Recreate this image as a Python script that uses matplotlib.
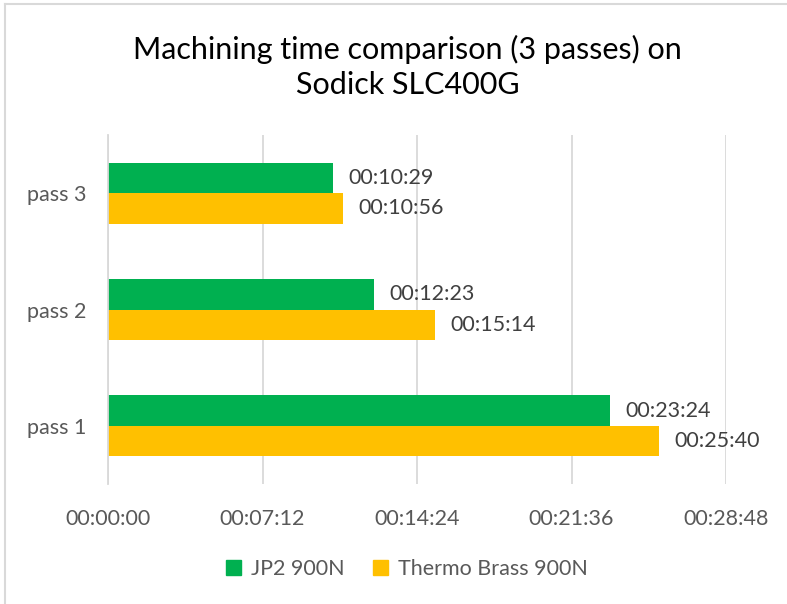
import numpy as np
import matplotlib
matplotlib.use("Agg")
import matplotlib.pyplot as plt
from matplotlib.lines import Line2D
from matplotlib.patches import Patch

plt.rcParams['font.family'] = ['Lato', 'DejaVu Sans']

# data (times in seconds)
passes = ['pass 1', 'pass 2', 'pass 3']
jp2 = [23*60 + 24, 12*60 + 23, 10*60 + 29]
thermo = [25*60 + 40, 15*60 + 14, 10*60 + 56]
series_names = ['JP2 900N', 'Thermo Brass 900N']
xticks = [0, 432, 864, 1296, 1728]

green = '#00B050'
yellow = '#FFC000'
grid_c = '#D9D9D9'
txt_c = '#595959'


def hms(s):
    s = int(round(s))
    return '%02d:%02d:%02d' % (s // 3600, (s % 3600) // 60, s % 60)


fig = plt.figure(figsize=(7.87, 6.04), dpi=100)
ax = fig.add_axes([108/787, 1 - 484/604, (726 - 108)/787, (484 - 135)/604])

y = np.arange(len(passes))
h = 0.262
b1 = ax.barh(y + h/2, jp2, height=h, color=green)
b2 = ax.barh(y - h/2, thermo, height=h, color=yellow)

for bars, vals in ((b1, jp2), (b2, thermo)):
    for r, v in zip(bars, vals):
        ax.annotate(hms(v), (v, r.get_y() + r.get_height()/2), xytext=(11, 0),
                    textcoords='offset points', va='center', ha='left',
                    fontsize=15.5, color='#404040')

ax.set_xlim(0, 1728)
ax.set_ylim(-0.5, 2.5)
ax.set_xticks(xticks)
ax.set_xticklabels([hms(t) for t in xticks])
ax.set_yticks(y)
ax.set_yticklabels(passes)
ax.tick_params(axis='both', length=0, labelsize=15.5, labelcolor=txt_c)
ax.tick_params(axis='x', pad=18)
ax.tick_params(axis='y', pad=15.5)
ax.grid(axis='x', color=grid_c, linewidth=1.3)
ax.set_axisbelow(True)
for s in ['top', 'right', 'bottom']:
    ax.spines[s].set_visible(False)
ax.spines['left'].set_color(grid_c)
ax.spines['left'].set_linewidth(1.3)

fig.text(0.518, 1 - 67/604, 'Machining time comparison (3 passes) on\nSodick SLC400G',
         ha='center', va='center', fontsize=22, color='#000000', linespacing=1.32)

handles = [Patch(color=green), Patch(color=yellow)]
fig.legend(handles, series_names, loc='center', bbox_to_anchor=(0.517, 1 - 569/604),
           ncol=2, frameon=False, fontsize=15.5, handlelength=0.7, handleheight=0.7,
           columnspacing=1.35, handletextpad=0.45, labelcolor=txt_c)

# chart border (top/left visible)
fig.add_artist(Line2D([5/787, 5/787], [0, 1 - 4/604], color=grid_c, linewidth=1.5))
fig.add_artist(Line2D([5/787, 1], [1 - 4/604, 1 - 4/604], color=grid_c, linewidth=1.5))

fig.savefig('out.png', dpi=100)
